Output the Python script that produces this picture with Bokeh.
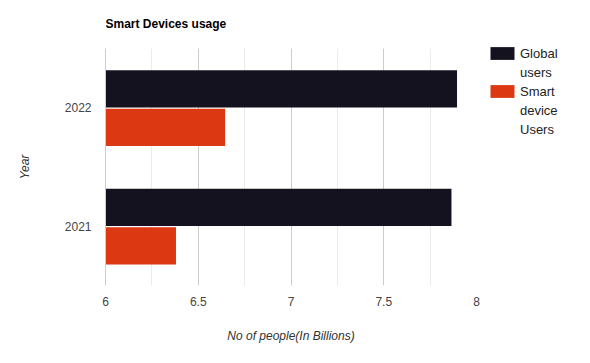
from bokeh.plotting import figure
from bokeh.models import ColumnDataSource, FactorRange, Range1d, Legend, LegendItem, SingleIntervalTicker, CustomJSTickFormatter
from bokeh.transform import dodge
from bokeh.embed import file_html
from bokeh.resources import INLINE

years = ["2021", "2022"]
global_users = [7.865, 7.895]
smart_users = [6.38, 6.645]
legend_lines = [["Global", "users"], ["Smart", "device", "Users"]]
colors = ["#14121f", "#dc3912"]

src = ColumnDataSource(dict(year=years, g=global_users, s=smart_users))

p = figure(frame_width=371, frame_height=237, y_range=FactorRange(*years), x_range=Range1d(6, 8),
           output_backend="svg", toolbar_location=None,
           title="Smart Devices usage")
p.min_border_left = 105
p.min_border_top = 48
p.min_border_bottom = 70
p.min_border_right = 106
p.outline_line_color = None

r1 = p.hbar(y=dodge("year", 0.16, range=p.y_range), left=6, right="g", height=0.315,
            source=src, color=colors[0], line_color=None)
r2 = p.hbar(y=dodge("year", -0.165, range=p.y_range), left=6, right="s", height=0.315,
            source=src, color=colors[1], line_color=None)
blank = p.hbar(y=[], left=[], right=[], height=0.1, fill_alpha=0, line_alpha=0)

p.title.text_font = "Liberation Sans"
p.title.text_font_size = "12px"
p.title.text_font_style = "bold"
p.title.text_color = "#000000"
p.title.vertical_align = "top"
p.title.standoff = 32

p.xaxis.ticker = SingleIntervalTicker(interval=0.5, num_minor_ticks=2)
p.xaxis.formatter = CustomJSTickFormatter(code="return String(Math.round(tick*100)/100);")
p.xaxis.axis_line_color = None
p.xaxis.major_tick_line_color = None
p.xaxis.minor_tick_line_color = None
p.xaxis.major_label_standoff = 5
p.xaxis.axis_label = "No of people(In Billions)"
p.xaxis.axis_label_standoff = 20

p.yaxis.axis_line_color = "#cccccc"
p.yaxis.major_tick_line_color = None
p.yaxis.minor_tick_line_color = None
p.yaxis.major_label_standoff = 8
p.yaxis.axis_label = "Year"
p.yaxis.axis_label_standoff = 30

for ax in (p.xaxis, p.yaxis):
    ax.major_label_text_font = "Liberation Sans"
    ax.major_label_text_font_size = "12px"
    ax.major_label_text_color = "#444444"
    ax.axis_label_text_font = "Liberation Sans"
    ax.axis_label_text_font_size = "12px"
    ax.axis_label_text_font_style = "italic"
    ax.axis_label_text_color = "#333333"

p.xgrid.grid_line_color = "#cccccc"
p.xgrid.minor_grid_line_color = "#ebebeb"
p.ygrid.grid_line_color = None

items = []
for lines, rend in zip(legend_lines, [r1, r2]):
    for i, line in enumerate(lines):
        items.append(LegendItem(label=line, renderers=[rend if i == 0 else blank]))

legend = Legend(items=items, location=(11, 147))
legend.label_text_font = "Liberation Sans"
legend.label_text_font_size = "13px"
legend.label_text_color = "#222222"
legend.glyph_width = 30
legend.glyph_height = 16
legend.label_height = 18
legend.label_standoff = 3
legend.spacing = 1
legend.padding = 0
legend.margin = 0
legend.border_line_color = None
legend.background_fill_alpha = 0
p.add_layout(legend, "right")

open("out.html", "w").write(file_html(p, INLINE))
